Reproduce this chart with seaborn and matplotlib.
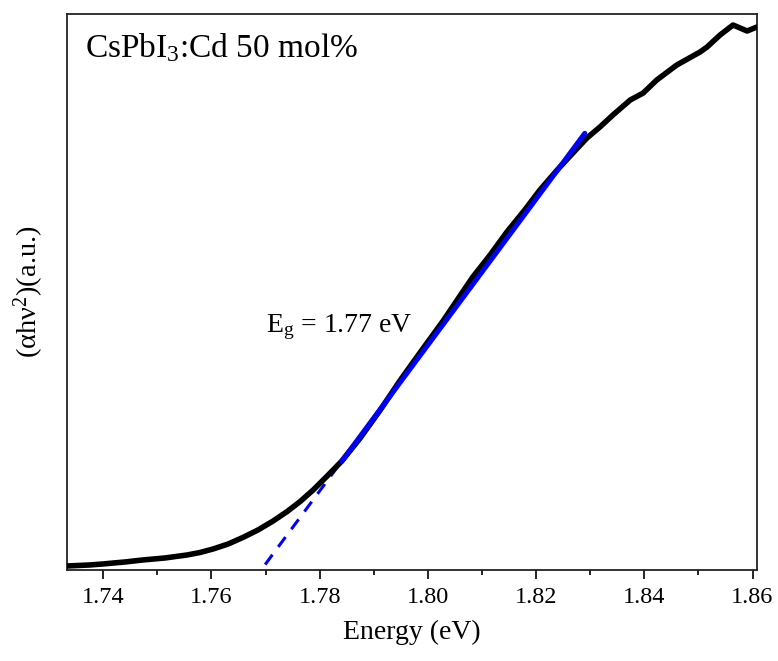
import numpy as np
import pandas as pd
import matplotlib
matplotlib.use("Agg")
import matplotlib.pyplot as plt
import seaborn as sns

# Tauc plot data: photon energy (eV) and (alpha*h*nu)^2 in arbitrary units
energy = [1.7333, 1.7375, 1.7399, 1.7440, 1.7473, 1.7514, 1.7555, 1.7579,
          1.7603, 1.7631, 1.7658, 1.7686, 1.7714, 1.7740, 1.7764, 1.7788,
          1.7814, 1.7841, 1.7875, 1.7912, 1.7948, 1.7985, 1.8028, 1.8083,
          1.8115, 1.8146, 1.8179, 1.8207, 1.8239, 1.8268, 1.8294, 1.8318,
          1.8342, 1.8374, 1.8398, 1.8423, 1.8460, 1.8503, 1.8516, 1.8540,
          1.8564, 1.8590, 1.8608]
tauc = [-0.02, -0.01, 0.00, 0.02, 0.04, 0.06, 0.09, 0.115,
        0.15, 0.20, 0.265, 0.34, 0.43, 0.525, 0.625, 0.74,
        0.88, 1.03, 1.26, 1.54, 1.83, 2.11, 2.43, 2.87,
        3.09, 3.32, 3.54, 3.74, 3.94, 4.11, 4.26, 4.37,
        4.49, 4.64, 4.71, 4.84, 4.99, 5.12, 5.17, 5.29,
        5.39, 5.33, 5.37]

# Linear fit of the absorption edge, extrapolated to zero
band_gap = 1.77
fit_slope = 73.0
fit_solid_range = [1.7841, 1.8290]
fit_dash_range = [1.7675, 1.7841]

x_ticks = [1.74, 1.76, 1.78, 1.80, 1.82, 1.84, 1.86]
x_tick_labels = ["1.74", "1.76", "1.78", "1.80", "1.82", "1.84", "1.86"]

sns.set_theme(style="ticks")
plt.rcParams["font.family"] = ["Liberation Serif", "DejaVu Serif"]
plt.rcParams["mathtext.fontset"] = "custom"
plt.rcParams["mathtext.rm"] = "Liberation Serif"
plt.rcParams["mathtext.it"] = "Liberation Serif:italic"
plt.rcParams["text.color"] = "black"
plt.rcParams["axes.labelcolor"] = "black"
plt.rcParams["xtick.color"] = "black"

fig = plt.figure(figsize=(7.78, 6.61), dpi=100)
ax = fig.add_axes([0.0861, 0.1377, 0.8874, 0.8411])

df_curve = pd.DataFrame({"E": energy, "y": tauc})
sns.lineplot(data=df_curve, x="E", y="y", ax=ax, color="black", lw=4.0,
             sort=False, estimator=None, zorder=3)

fit_dash_x = np.array(fit_dash_range)
fit_solid_x = np.array(fit_solid_range)
df_dash = pd.DataFrame({"E": fit_dash_x, "y": fit_slope * (fit_dash_x - band_gap)})
df_solid = pd.DataFrame({"E": fit_solid_x, "y": fit_slope * (fit_solid_x - band_gap)})
sns.lineplot(data=df_dash, x="E", y="y", ax=ax, color="#0000ff", lw=2.2,
             estimator=None, zorder=2, linestyle=(0, (4, 3.2)))
sns.lineplot(data=df_solid, x="E", y="y", ax=ax, color="#0000ff", lw=3.6,
             estimator=None, zorder=4, solid_capstyle="round")

ax.set_xlim(1.7333, 1.8609)
ax.set_ylim(-0.06, 5.50)
ax.set_xticks(x_ticks)
ax.set_xticklabels(x_tick_labels)
ax.set_xticks(np.arange(1.75, 1.86, 0.02), minor=True)
ax.set_yticks([])

ax.tick_params(axis="x", which="major", direction="out", length=6.5, width=1.2,
               labelsize=17.5, pad=6, colors="black")
ax.tick_params(axis="x", which="minor", direction="out", length=3.6, width=1.2,
               colors="black")
for sp in ax.spines.values():
    sp.set_visible(True)
    sp.set_linewidth(1.3)
    sp.set_color("#222222")

ax.set_xlabel("Energy (eV)", fontsize=20, labelpad=8)
ax.set_ylabel("(\u03b1h\u03bd$^2$)(a.u.)", fontsize=20.5, labelpad=15)

ax.text(0.026, 0.923, "CsPbI$_3$:Cd 50 mol%", transform=ax.transAxes,
        fontsize=24, ha="left", va="baseline")
ax.text(1.7701, 2.32, "E$_{\\rm g}$ = 1.77 eV", fontsize=20,
        ha="left", va="baseline")

fig.savefig("out.png", dpi=100, facecolor="white")
